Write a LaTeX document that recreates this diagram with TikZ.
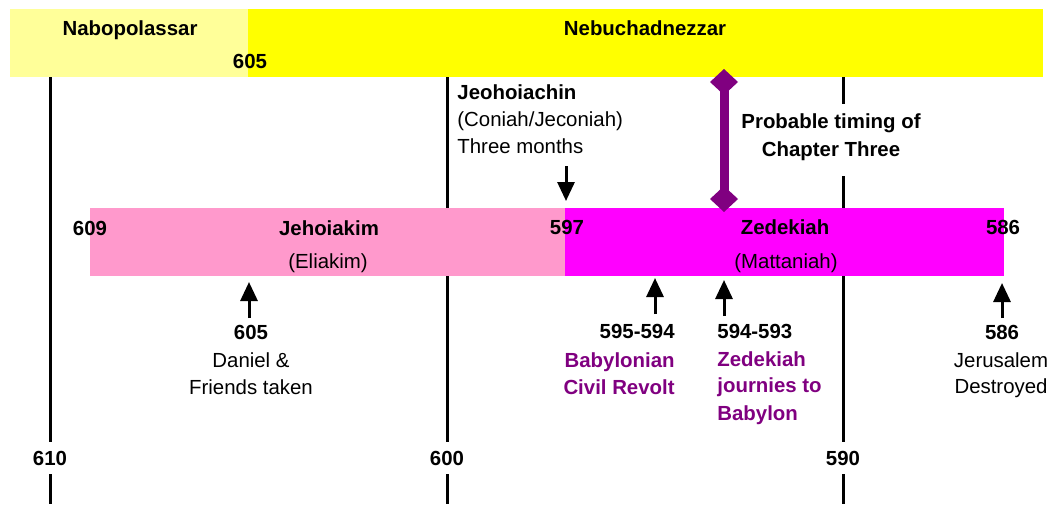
\documentclass[tikz,border=0pt]{standalone}
\usepackage{fontspec}
\setmainfont{Liberation Sans}
\usepackage{xcolor}
\usetikzlibrary{arrows.meta}

\definecolor{paleyellow}{RGB}{255,255,153}
\definecolor{reignyellow}{RGB}{255,255,0}
\definecolor{barpink}{RGB}{255,153,204}
\definecolor{barmagenta}{RGB}{255,0,255}
\definecolor{kingpurple}{RGB}{128,0,128}

\begin{document}
\begin{tikzpicture}[x=0.5pt,y=-0.5pt,
  txt/.style={inner sep=0pt,text height=7.3pt,text depth=0pt,font=\fontsize{10.2}{12}\selectfont},
  boldtxt/.style={txt,font=\fontsize{10.2}{12}\selectfont\bfseries},
  purpletxt/.style={boldtxt,text=kingpurple},
  yearlbl/.style={boldtxt,fill=white,inner xsep=2pt,inner ysep=4.3pt},
  gridline/.style={line width=1.5pt},
  arr/.style={-{Triangle[length=9.5pt,width=8.5pt]},line width=1.5pt}]

\useasboundingbox (0,0) rectangle (1063,504);

\coordinate (g610) at (50,77);
\coordinate (g600) at (447,77);
\coordinate (g590) at (843,77);

\draw[gridline] (g610) -- (50,504);
\draw[gridline] (g600) -- (447,504);
\draw[gridline] (g590) -- (843,104);
\draw[gridline] (843,176) -- (843,504);

\fill[paleyellow] (10,9) rectangle (248,77);
\fill[reignyellow] (248,9) rectangle (1043,77);
\fill[barpink] (90,208) rectangle (565,276);
\fill[barmagenta] (565,208) rectangle (1004,276);

\node[boldtxt] (nabo) at (130,28) {Nabopolassar};
\node[boldtxt] (nebu) at (645,28) {Nebuchadnezzar};
\node[boldtxt] (y605) at (250,61) {605};

\node[boldtxt,anchor=west] (jeo) at (457,92) {Jeohoiachin};
\node[txt,anchor=west] (jeoalt) at (457,119.5) {(Coniah/Jeconiah)};
\node[txt,anchor=west] (jeolen) at (457,146.5) {Three months};

\node[boldtxt] (prob) at (831,121) {Probable timing of};
\node[boldtxt] (chap) at (831,149) {Chapter Three};

\node[boldtxt] (y609) at (90,228) {609};
\node[boldtxt] (jehoi) at (329,228) {Jehoiakim};
\node[txt] (eliakim) at (328,261) {(Eliakim)};
\node[boldtxt] (y597) at (567,227) {597};
\node[boldtxt] (zed) at (785,227) {Zedekiah};
\node[txt] (matt) at (786,261) {(Mattaniah)};
\node[boldtxt] (y586) at (1003,227) {586};

\coordinate (jtop) at (566,166);
\coordinate (jtip) at (566,201);
\draw[arr] (jtop) -- (jtip);

\coordinate (ptop) at (724,69);
\coordinate (pbot) at (724,212);
\draw[kingpurple,line width=4.5pt,
  {Diamond[length=13pt,width=14pt]}-{Diamond[length=13pt,width=14pt]}] (ptop) -- (pbot);

\coordinate (a605) at (249,318);
\coordinate (b605) at (249,282);
\coordinate (a595) at (655,314);
\coordinate (b595) at (655,278);
\coordinate (a594) at (724,316);
\coordinate (b594) at (724,280);
\coordinate (a586) at (1002,318);
\coordinate (b586) at (1002,283);

\draw[arr] (a605) -- (b605);
\draw[arr] (a595) -- (b595);
\draw[arr] (a594) -- (b594);
\draw[arr] (a586) -- (b586);

\node[boldtxt] (d605) at (251,332) {605};
\node[txt] (dan1) at (251,360) {Daniel \&};
\node[txt] (dan2) at (251,387) {Friends taken};

\node[boldtxt,anchor=east] (rev) at (675,331) {595-594};
\node[purpletxt,anchor=east] (rev1) at (675,360) {Babylonian};
\node[purpletxt,anchor=east] (rev2) at (675,387) {Civil Revolt};

\node[boldtxt,anchor=west] (jour) at (717,331) {594-593};
\node[purpletxt,anchor=west] (jour1) at (717,359) {Zedekiah};
\node[purpletxt,anchor=west] (jour2) at (717,385) {journies to};
\node[purpletxt,anchor=west] (jour3) at (717,413) {Babylon};

\node[boldtxt] (d586) at (1002,332) {586};
\node[txt] (jer1) at (1001,360) {Jerusalem};
\node[txt] (jer2) at (1001,386) {Destroyed};

\node[yearlbl] (y610) at (50,458) {610};
\node[yearlbl] (y600) at (447,458) {600};
\node[yearlbl] (y590) at (843,458) {590};

\end{tikzpicture}
\end{document}
